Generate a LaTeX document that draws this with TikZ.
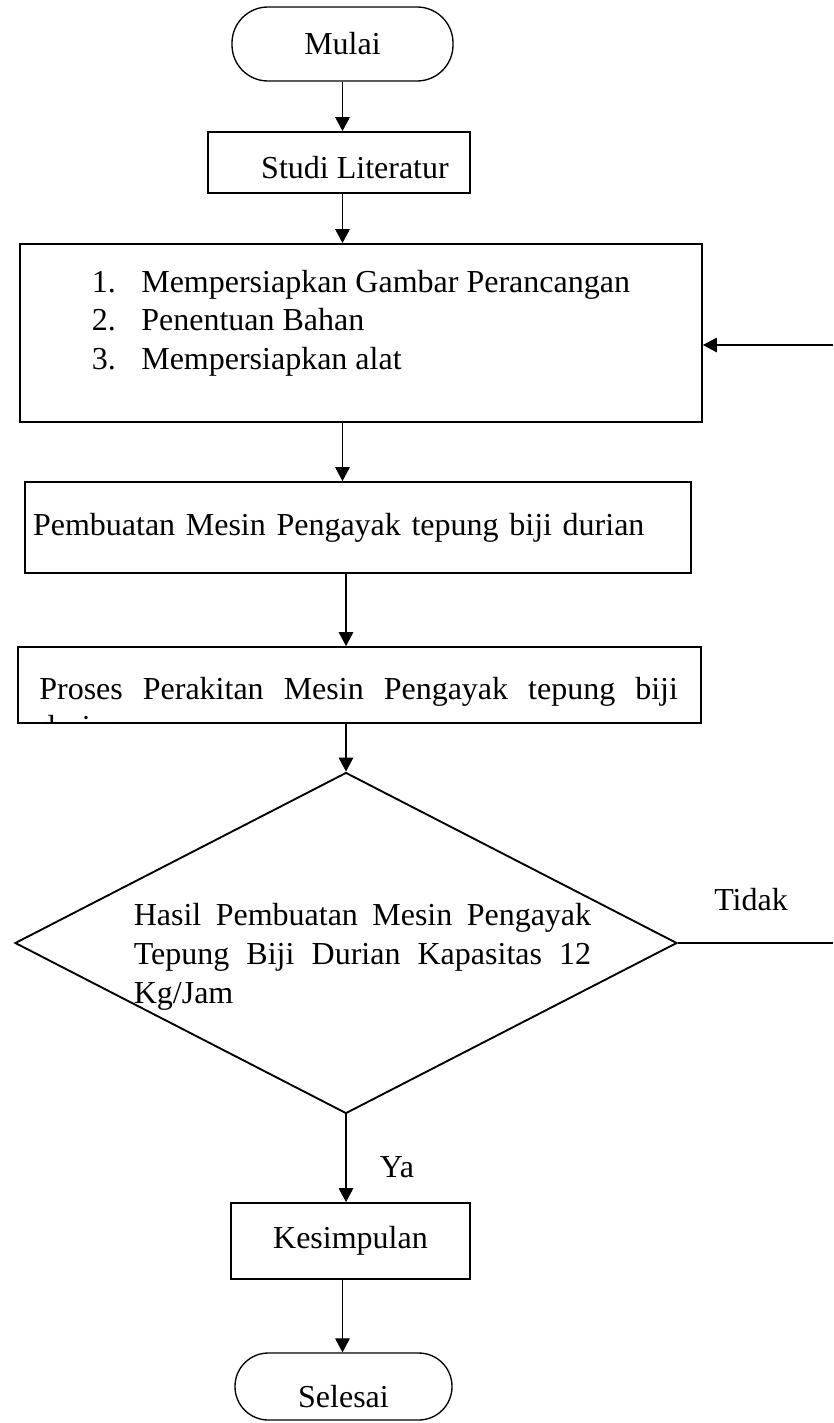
\documentclass[tikz,border=0pt]{standalone}
\usepackage{fontspec}
\setmainfont{Liberation Serif}
\usetikzlibrary{arrows.meta, shapes.geometric}
\hyphenpenalty=10000

\begin{document}
\begin{tikzpicture}[x=0.75pt, y=-0.75pt, >={Triangle[length=10.5pt, width=11pt]},
  font=\fontsize{24}{29}\selectfont,
  box/.style={draw, line width=1.4pt, inner sep=0pt},
  terminal/.style={draw, line width=1pt, inner sep=0pt},
  decision/.style={draw, diamond, line width=1.4pt, inner sep=0pt},
  flow/.style={->, line width=0.8pt}]
  \useasboundingbox (0,0) rectangle (833,1423);

  % Start and preparation
  \node[terminal, rounded corners=27pt, minimum width=165.75pt, minimum height=55.5pt] (mulai) at (342.5,44) {Mulai};
  \node[box, minimum width=196.5pt, minimum height=45.75pt, text height=23.5pt, text depth=0pt]
    (studi) at (339,162.5) {\hspace*{24pt}Studi Literatur};
  \node[box, minimum width=511.5pt, minimum height=133.5pt] (persiapan) at (361,333)
    {\begin{tabular}{@{}p{37pt}@{}l@{}}
     1. & Mempersiapkan Gambar Perancangan\\
     2. & Penentuan Bahan\\
     3. & Mempersiapkan alat\\[15pt]
     \end{tabular}};

  % Fabrication and assembly
  \node[box, minimum width=499.5pt, minimum height=68.25pt, text width=487.5pt, align=left, inner xsep=6pt]
    (pembuatan) at (358,527.5) {Pembuatan Mesin Pengayak tepung biji durian};
  \node[box, minimum width=512.25pt, minimum height=57pt] (perakitan) at (359.5,685) {};
  \begin{scope}
    \clip (perakitan.north west) rectangle (perakitan.south east);
    \node[anchor=north west, inner sep=0pt, text width=479pt, align=justify] (perakitanteks)
      at ([xshift=16.5pt, yshift=-23pt]perakitan.north west)
      {\noindent Proses Perakitan Mesin Pengayak tepung biji \mbox{durian}};
  \end{scope}

  % Decision
  \node[decision, minimum width=496.5pt, minimum height=255.75pt] (cek) at (346,943) {};
  \node[text width=343pt, align=justify, inner sep=0pt] (cekteks) at (362.5,957)
    {Hasil Pembuatan Mesin Pengayak Tepung Biji Durian Kapasitas 12 Kg/Jam};
  \node (tidak) at (751,900) {Tidak};
  \node (ya) at (397,1167) {Ya};
  \coordinate (tidakujung) at (833,943);
  \coordinate (balik) at (833,345);

  % End
  \node[box, minimum width=179.25pt, minimum height=57pt] (kesimpulan) at (350.5,1241) {Kesimpulan};
  \node[terminal, rounded corners=25pt, minimum width=162.75pt, minimum height=50.25pt, text height=31pt, text depth=0pt]
    (selesai) at (343.5,1386.5) {Selesai};

  % Connectors
  \draw[flow] (mulai.south) -- (mulai.south |- studi.north);
  \draw[flow] (mulai.south |- studi.south) -- (mulai.south |- persiapan.north);
  \draw[flow] (mulai.south |- persiapan.south) -- (mulai.south |- pembuatan.north);
  \draw[flow] (cek.north |- pembuatan.south) -- (cek.north |- perakitan.north);
  \draw[flow] (cek.north |- perakitan.south) -- (cek.north);
  \draw[flow] (cek.south) -- (cek.south |- kesimpulan.north);
  \draw[flow] (mulai.south |- kesimpulan.south) -- (mulai.south |- selesai.north);
  \draw[line width=0.8pt] (cek.east) -- (tidakujung);
  \draw[flow] (balik) -- (persiapan.east |- balik);
\end{tikzpicture}
\end{document}
